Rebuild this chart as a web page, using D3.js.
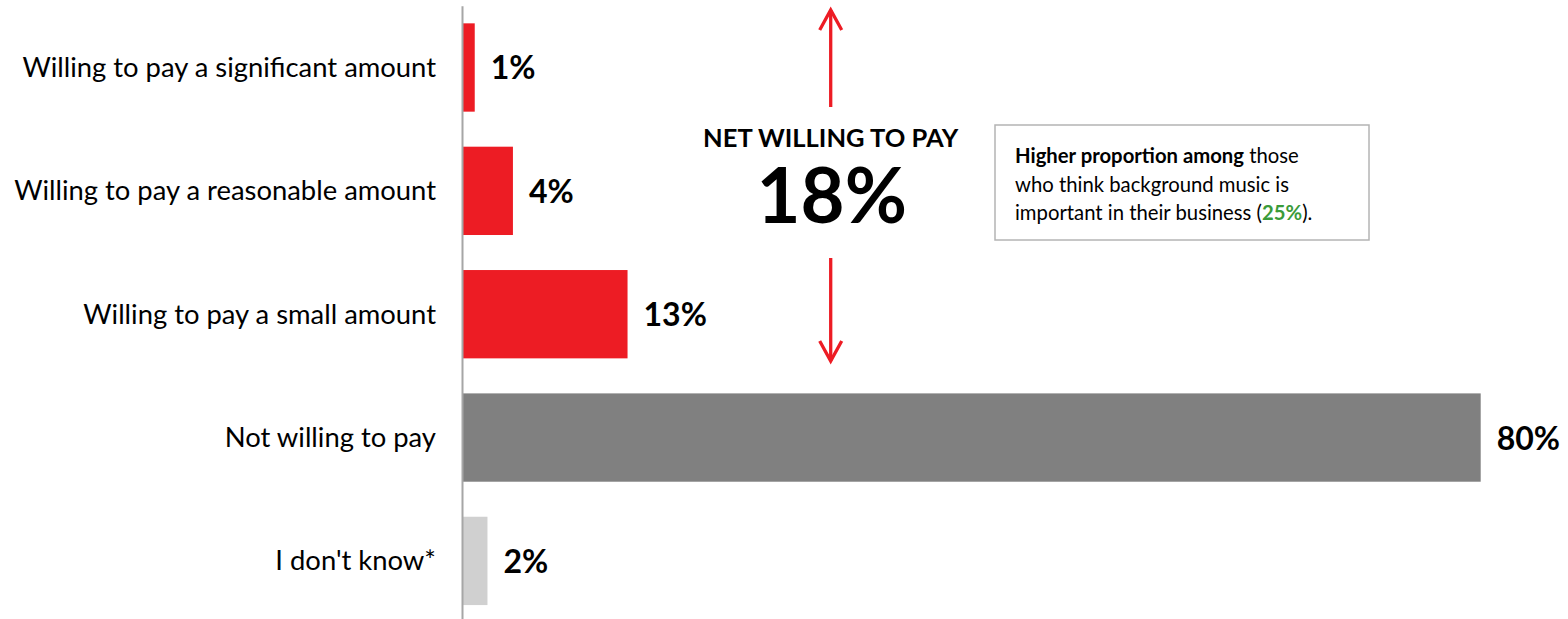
<!DOCTYPE html>
<html><head><meta charset="utf-8">
<script src="https://cdn.jsdelivr.net/npm/d3@7"></script>
<style>
html,body{margin:0;padding:0;background:#fff;}
svg{display:block;font-family:Lato,"Open Sans",sans-serif;}
</style></head>
<body>
<svg id="chart" width="1568" height="619"></svg>
<script>
const categories = ["Willing to pay a significant amount","Willing to pay a reasonable amount","Willing to pay a small amount","Not willing to pay","I don't know*"];
const values = [1, 4, 13, 80, 2];
const barColors = ["#ED1C24","#ED1C24","#ED1C24","#808080","#D0D0D0"];
const valueLabels = ["1%","4%","13%","80%","2%"];
const netTitle = "NET WILLING TO PAY";
const netValue = "18%";
const noteParts = [
  [{t:"Higher proportion among",b:true},{t:" those"}],
  [{t:"who think background music is"}],
  [{t:"important in their business ("},{t:"25%",b:true,g:true},{t:")."}]
];

const svg = d3.select("#chart");
const x = d3.scaleLinear().domain([0, 80]).range([462, 1480.7]);
const y = d3.scaleBand().domain(categories).range([5.7, 622.7]).paddingInner(0.284).paddingOuter(0.143);

// bars
svg.append("g").selectAll("rect").data(categories).join("rect")
  .attr("x", x(0)).attr("y", d => y(d))
  .attr("width", (d,i) => x(values[i]) - x(0))
  .attr("height", y.bandwidth())
  .attr("fill", (d,i) => barColors[i]);

// axis
const ax = svg.append("g").attr("transform", `translate(${x(0)},0)`)
  .call(d3.axisLeft(y).tickSize(0).tickSizeOuter(0).tickPadding(26));
ax.select(".domain").attr("stroke", "#A6A6A6").attr("stroke-width", 2);
ax.selectAll(".tick text").attr("font-family", "Lato").attr("font-size", 27.4).attr("fill", "#000").attr("dy", "0.34em");

// value labels
svg.append("g").selectAll("text").data(categories).join("text")
  .attr("x", (d,i) => x(values[i]) + 16)
  .attr("y", d => y(d) + y.bandwidth()/2 + 12)
  .attr("font-size", 32).attr("font-weight", 700).attr("fill", "#000")
  .text((d,i) => valueLabels[i]);

// NET annotation
const cx = 830.7;
svg.append("text").attr("x", cx).attr("y", 147).attr("text-anchor", "middle")
  .attr("font-size", 25.5).attr("font-weight", 700).attr("fill", "#000").text(netTitle);
svg.append("text").attr("x", cx + 1).attr("y", 223).attr("text-anchor", "middle")
  .attr("font-size", 76).attr("font-weight", 700).attr("fill", "#000").text(netValue);

const red = "#ED1C24";
const ag = svg.append("g").attr("stroke", red).attr("stroke-width", 3.3).attr("fill", "none").attr("stroke-linecap", "butt");
ag.append("line").attr("x1", cx).attr("x2", cx).attr("y1", 107).attr("y2", 10);
ag.append("polyline").attr("points", `${cx-11},30 ${cx},10 ${cx+11},30`);
ag.append("line").attr("x1", cx).attr("x2", cx).attr("y1", 258).attr("y2", 361);
ag.append("polyline").attr("points", `${cx-11},341 ${cx},361 ${cx+11},341`);

// note box
svg.append("rect").attr("x", 995).attr("y", 125).attr("width", 374).attr("height", 115)
  .attr("fill", "#fff").attr("stroke", "#B4B4B4").attr("stroke-width", 1.5);
const nt = svg.append("text").attr("font-size", 20.3).attr("fill", "#000");
noteParts.forEach((line, li) => {
  line.forEach((p, pi) => {
    const ts = nt.append("tspan").text(p.t)
      .attr("font-weight", p.b ? 700 : 400)
      .attr("fill", p.g ? "#3A9B3A" : "#000");
    if (pi === 0) ts.attr("x", 1015).attr("y", 163 + li * 28.5);
  });
});
</script>
</body></html>
